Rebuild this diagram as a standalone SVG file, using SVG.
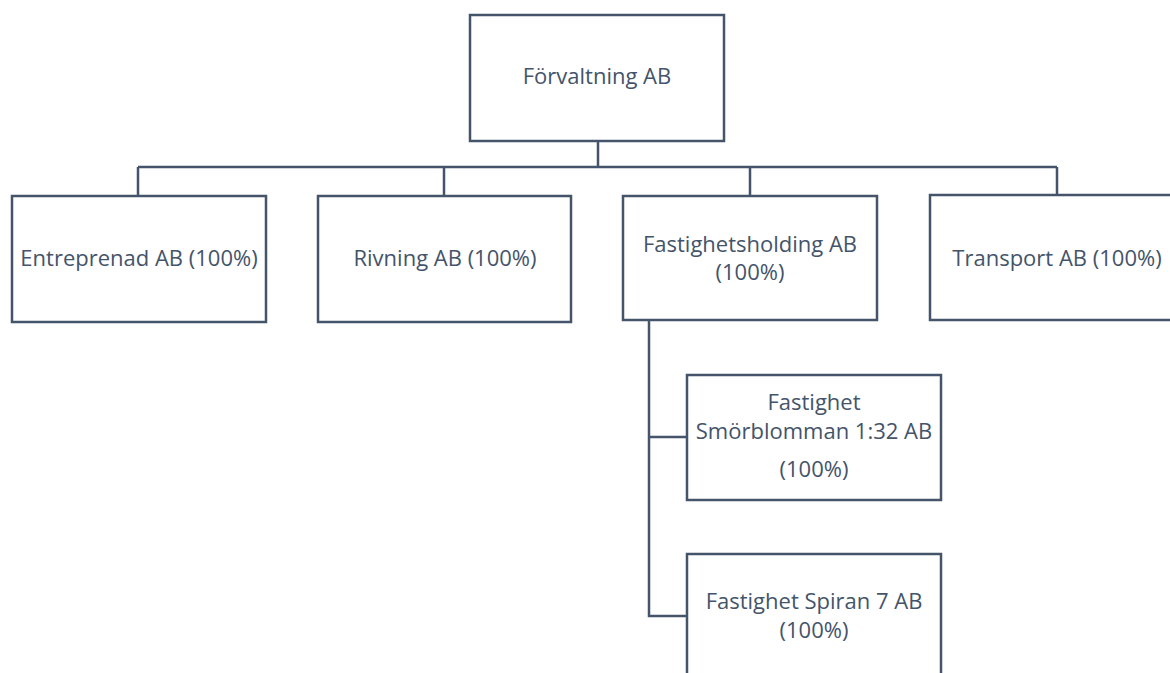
<svg xmlns="http://www.w3.org/2000/svg" width="1170" height="673" viewBox="0 0 1170 673">
<style>
.box{fill:#fff;stroke:#44546A;stroke-width:2.5}
.c{fill:none;stroke:#44546A;stroke-width:2.5}
text{font-family:"Open Sans","Noto Sans",sans-serif;font-size:22px;fill:#44546A;text-anchor:middle}
</style>
<rect width="1170" height="673" fill="#fff"/>
<g id="connectors">
<path class="c" d="M598 141V167M138 167H1057M138 167V196M444 167V196M750 167V196M1057 167V195"/>
<path class="c" d="M649 320V616H687M649 437H687"/>
</g>
<g id="n-forvaltning"><rect class="box" x="470" y="15" width="254" height="126"/><text x="597" y="84">Förvaltning AB</text></g>
<g id="n-entreprenad"><rect class="box" x="12" y="196" width="254" height="126"/><text x="139" y="266">Entreprenad AB (100%)</text></g>
<g id="n-rivning"><rect class="box" x="318" y="196" width="253" height="126"/><text x="445" y="266">Rivning AB (100%)</text></g>
<g id="n-holding"><rect class="box" x="623" y="196" width="254" height="124"/><text x="750" y="252">Fastighetsholding AB</text><text x="750" y="280">(100%)</text></g>
<g id="n-transport"><rect class="box" x="930" y="195" width="254" height="125"/><text x="1057" y="266">Transport AB (100%)</text></g>
<g id="n-smorblomman"><rect class="box" x="687" y="375" width="254" height="125"/><text x="814" y="410">Fastighet</text><text x="814" y="439">Smörblomman 1:32 AB</text><text x="814" y="477">(100%)</text></g>
<g id="n-spiran"><rect class="box" x="687" y="554" width="254" height="130"/><text x="814" y="609">Fastighet Spiran 7 AB</text><text x="814" y="638">(100%)</text></g>
</svg>
